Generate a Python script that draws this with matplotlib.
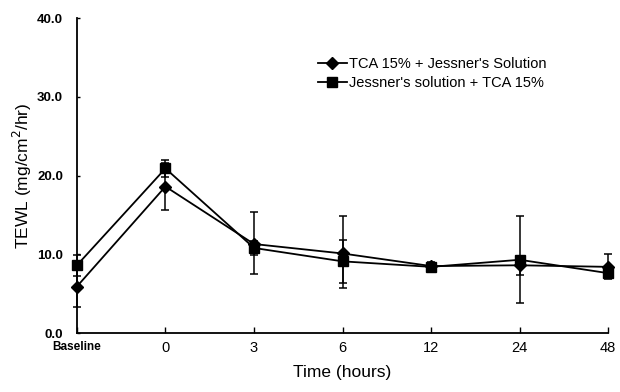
import numpy as np
import matplotlib
matplotlib.use('Agg')
import matplotlib.pyplot as plt
from matplotlib.lines import Line2D

plt.rcParams['font.family'] = ['Liberation Sans', 'DejaVu Sans']

# data
time_labels = ['Baseline', '0', '3', '6', '12', '24', '48']

tca_jessner = [5.9, 18.6, 11.3, 10.1, 8.5, 8.6, 8.4]
tca_jessner_lo = [2.6, 3.0, 3.8, 4.4, 0.5, 1.2, 1.6]
tca_jessner_hi = [2.6, 3.0, 4.1, 4.7, 0.5, 1.2, 1.6]

jessner_tca = [8.6, 20.9, 10.8, 9.1, 8.4, 9.3, 7.6]
jessner_tca_lo = [1.3, 1.1, 0.9, 2.7, 0.5, 5.5, 0.6]
jessner_tca_hi = [1.3, 1.1, 0.9, 2.7, 0.5, 5.5, 0.6]

series_names = ["TCA 15% + Jessner's Solution", "Jessner's solution + TCA 15%"]

x = np.arange(len(time_labels))

fig = plt.figure(figsize=(6.2, 3.92), dpi=100)
ax = fig.add_axes([0.124, 0.1505, 0.857, 0.8035])

ax.errorbar(x, tca_jessner, yerr=[tca_jessner_lo, tca_jessner_hi],
            color='black', marker='D', markersize=6.5, linewidth=1.3,
            elinewidth=1.1, capsize=3, capthick=1.1,
            clip_on=False, zorder=3)
ax.errorbar(x, jessner_tca, yerr=[jessner_tca_lo, jessner_tca_hi],
            color='black', marker='s', markersize=7.5, linewidth=1.3,
            elinewidth=1.1, capsize=3, capthick=1.1,
            clip_on=False, zorder=3)

ax.set_xlim(0, 6)
ax.set_ylim(0, 40)
ax.set_yticks([0, 10, 20, 30, 40])
ax.set_yticklabels(['0.0', '10.0', '20.0', '30.0', '40.0'], fontsize=9.5, fontweight='bold')
ax.set_xticks(x)
ax.set_xticklabels(time_labels, fontsize=10.5)
ax.get_xticklabels()[0].set_fontsize(8.5)
ax.get_xticklabels()[0].set_fontweight('bold')

ax.tick_params(axis='x', direction='in', length=4, width=1, pad=6)
ax.tick_params(axis='y', direction='in', length=2, width=1, pad=10)

for side in ['top', 'right']:
    ax.spines[side].set_visible(False)
for side in ['left', 'bottom']:
    ax.spines[side].set_linewidth(1.3)

ax.set_ylabel('TEWL (mg/cm$^2$/hr)', fontsize=12.5, labelpad=2)
ax.set_xlabel('Time (hours)', fontsize=12.5, labelpad=7)

# legend shows only line + marker, no error bars
handles = [Line2D([], [], color='black', marker='D', markersize=6.5, linewidth=1.3),
           Line2D([], [], color='black', marker='s', markersize=7.5, linewidth=1.3)]
ax.legend(handles, series_names, loc='upper left', bbox_to_anchor=(0.503, 0.87),
          bbox_transform=fig.transFigure, frameon=False, fontsize=10.5,
          handlelength=2.0, handletextpad=0.15, labelspacing=0.35, borderaxespad=0)

fig.savefig('out.png', dpi=100)
